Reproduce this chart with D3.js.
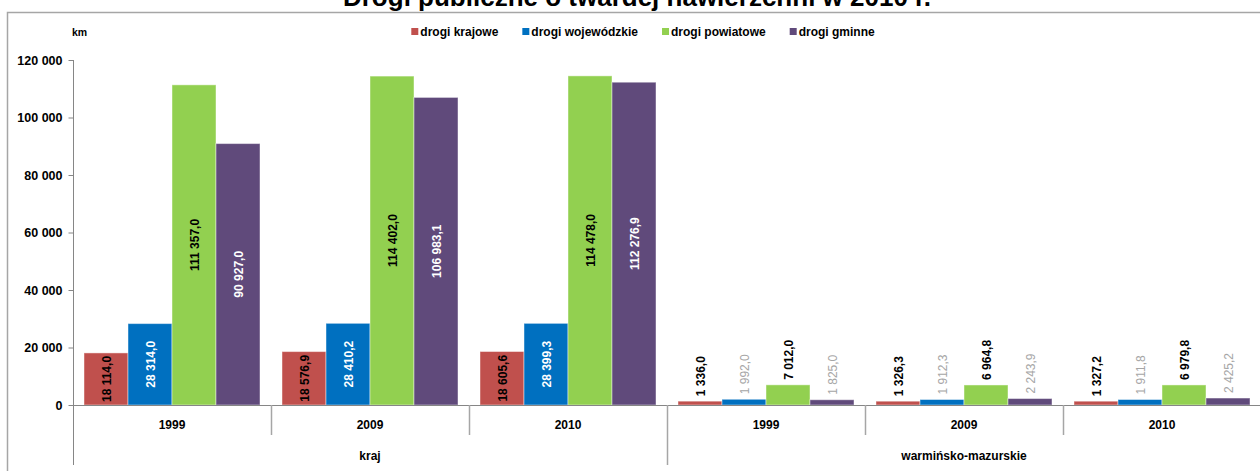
<!DOCTYPE html>
<html lang="pl">
<head>
<meta charset="utf-8">
<title>Drogi publiczne o twardej nawierzchni</title>
<script src="https://cdn.jsdelivr.net/npm/d3@7"></script>
<style>
  body { margin: 0; background: #fff; }
  text { font-family: "Liberation Sans", Arial, sans-serif; }
</style>
</head>
<body>
<div id="chart"></div>
<script>

// data (km)
var series = ["drogi krajowe", "drogi wojewódzkie", "drogi powiatowe", "drogi gminne"];
var colors = ["#C0504D", "#0070C0", "#92D050", "#604A7B"];
var regions = ["kraj", "warmińsko-mazurskie"];
var years = ["1999", "2009", "2010"];

var krajowe     = [18114.0, 18576.9, 18605.6, 1336.0, 1326.3, 1327.2];
var wojewodzkie = [28314.0, 28410.2, 28399.3, 1992.0, 1912.3, 1911.8];
var powiatowe   = [111357.0, 114402.0, 114478.0, 7012.0, 6964.8, 6979.8];
var gminne      = [90927.0, 106983.1, 112276.9, 1825.0, 2243.9, 2425.2];

var yTicks = [0, 20000, 40000, 60000, 80000, 100000, 120000];

var values = [krajowe, wojewodzkie, powiatowe, gminne];

// groups: region x year
var groups = [];
regions.forEach(function (r) {
  years.forEach(function (y) { groups.push(r + "|" + y); });
});

var width = 1260, height = 471;
var svg = d3.select("#chart").append("svg")
  .attr("width", width)
  .attr("height", height);

// outer frame
svg.append("path")
  .attr("d", "M7.5," + height + "V12.5H" + width)
  .attr("fill", "none")
  .attr("stroke", "#a6a6a6")
  .attr("stroke-width", 1.5);

// title (cut off at top, like the reference)
svg.append("text")
  .attr("x", 637)
  .attr("y", 6)
  .attr("text-anchor", "middle")
  .attr("font-size", 26)
  .attr("font-weight", "bold")
  .text("Drogi publiczne o twardej nawierzchni w 2010 r.");

var plotLeft = 73, plotRight = 1261, plotTop = 60, plotBottom = 405;

var x0 = d3.scaleBand().domain(groups).range([plotLeft, plotRight]);
var x1 = d3.scaleBand().domain(series).range([0, x0.bandwidth()])
  .paddingInner(0).paddingOuter(0.25);
var y = d3.scaleLinear().domain([0, 120000]).range([plotBottom, plotTop]);

// y axis
var yAxis = d3.axisLeft(y)
  .tickValues(yTicks)
  .tickSize(5)
  .tickPadding(6)
  .tickFormat(function (d) { return d3.format(",")(d).replace(/,/g, " "); });

var gy = svg.append("g")
  .attr("transform", "translate(" + (plotLeft + 0.5) + ",0)")
  .call(yAxis);
gy.select(".domain").remove();
gy.selectAll(".tick line").attr("stroke", "#868686");
gy.selectAll(".tick text")
  .attr("font-size", 12.5)
  .attr("font-weight", "bold")
  .attr("fill", "#000")
  .attr("font-family", "Liberation Sans, Arial, sans-serif");

svg.append("line")
  .attr("x1", plotLeft + 0.5).attr("x2", plotLeft + 0.5)
  .attr("y1", plotTop).attr("y2", 465)
  .attr("stroke", "#868686");

svg.append("text")
  .attr("x", 72)
  .attr("y", 36)
  .attr("font-size", 10.5)
  .attr("font-weight", "bold")
  .text("km");

// bars
var barData = [];
groups.forEach(function (g, gi) {
  series.forEach(function (s, si) {
    barData.push({ group: g, gi: gi, series: s, si: si, value: values[si][gi] });
  });
});

svg.append("g").selectAll("rect")
  .data(barData)
  .enter().append("rect")
  .attr("x", function (d) { return x0(d.group) + x1(d.series); })
  .attr("y", function (d) { return y(d.value); })
  .attr("width", x1.bandwidth())
  .attr("height", function (d) { return plotBottom - y(d.value); })
  .attr("fill", function (d) { return colors[d.si]; })
  .attr("stroke", "rgba(255,255,255,0.45)")
  .attr("stroke-width", 1);

// value labels
var fmt = function (v) {
  var s = d3.format(",.1f")(v);
  return s.replace(/,/g, " ").replace(".", ",");
};

var insideColor = ["#000", "#fff", "#000", "#fff"];
var outsideColor = ["#000", "#a6a6a6", "#000", "#a6a6a6"];

svg.append("g").selectAll("text")
  .data(barData)
  .enter().append("text")
  .attr("transform", function (d) {
    var cx = x0(d.group) + x1(d.series) + x1.bandwidth() / 2 + 4.5;
    var cy;
    if (d.gi < 3) cy = (y(d.value) + plotBottom) / 2;
    else cy = y(d.value) - 5;
    return "translate(" + cx + "," + cy + ") rotate(-90)";
  })
  .attr("text-anchor", function (d) { return d.gi < 3 ? "middle" : "start"; })
  .attr("font-size", 12)
  .attr("font-weight", function (d) { return (d.gi >= 3 && (d.si === 1 || d.si === 3)) ? "normal" : "bold"; })
  .attr("fill", function (d) { return d.gi < 3 ? insideColor[d.si] : outsideColor[d.si]; })
  .text(function (d) { return fmt(d.value); });

// category axis
svg.append("line")
  .attr("x1", plotLeft).attr("x2", width)
  .attr("y1", plotBottom + 0.5).attr("y2", plotBottom + 0.5)
  .attr("stroke", "#868686");

groups.forEach(function (g, gi) {
  if (gi === 0) return;
  var xx = Math.round(x0(g)) + 0.5;
  svg.append("line")
    .attr("x1", xx).attr("x2", xx)
    .attr("y1", plotBottom).attr("y2", gi % 3 === 0 ? 465 : 435)
    .attr("stroke", "#a6a6a6")
    .attr("stroke-width", 1.5);
});

svg.append("g").selectAll("text")
  .data(groups)
  .enter().append("text")
  .attr("x", function (d) { return x0(d) + x0.bandwidth() / 2; })
  .attr("y", 429)
  .attr("text-anchor", "middle")
  .attr("font-size", 12)
  .attr("font-weight", "bold")
  .text(function (d) { return d.split("|")[1]; });

svg.append("g").selectAll("text")
  .data(regions)
  .enter().append("text")
  .attr("x", function (r, i) {
    return (x0(groups[i * 3]) + x0(groups[i * 3 + 2]) + x0.bandwidth()) / 2;
  })
  .attr("y", 460)
  .attr("text-anchor", "middle")
  .attr("font-size", 12)
  .attr("font-weight", "bold")
  .text(function (d) { return d; });

// legend
var legend = svg.append("g");
var lx = 0;
series.forEach(function (s, i) {
  var item = legend.append("g").attr("transform", "translate(" + lx + ",0)");
  item.append("rect")
    .attr("x", 0).attr("y", -8)
    .attr("width", 7).attr("height", 7)
    .attr("fill", colors[i]);
  var t = item.append("text")
    .attr("x", 9).attr("y", 0)
    .attr("font-size", 12)
    .attr("font-weight", "bold")
    .text(s);
  lx += 9 + t.node().getComputedTextLength() + 24;
});
var legendWidth = lx - 24;
legend.attr("transform", "translate(" + (643 - legendWidth / 2) + ",36)");

</script>
</body>
</html>
